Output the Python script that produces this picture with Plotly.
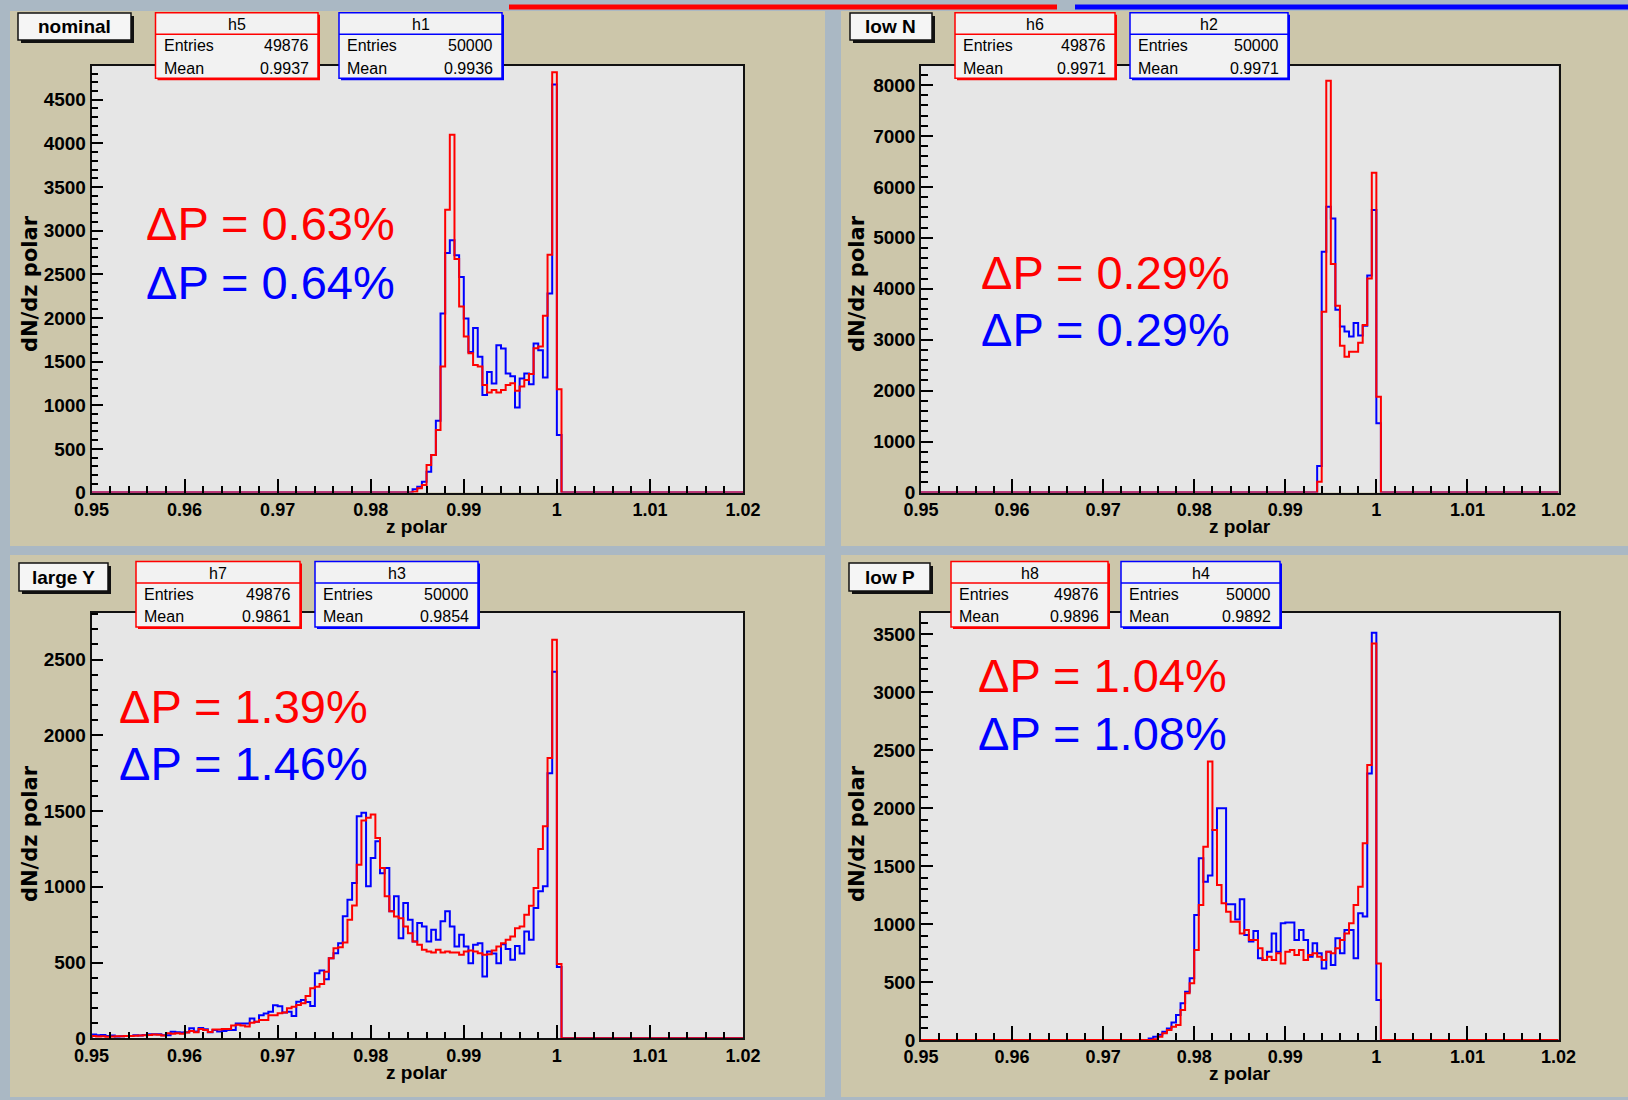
import plotly.graph_objects as go

W, H = 1628, 1100

# ---------------- data ----------------
X_LO, X_HI = 0.95, 1.02
BIN_W = 0.0005
N_BINS = 140

x_tick_vals = [0.95, 0.96, 0.97, 0.98, 0.99, 1.00, 1.01, 1.02]
x_tick_text = ["0.95", "0.96", "0.97", "0.98", "0.99", "1", "1.01", "1.02"]

panel_labels = ["nominal", "low N", "large Y", "low P"]
red_names = ["h5", "h6", "h7", "h8"]
blue_names = ["h1", "h2", "h3", "h4"]
red_entries = ["49876", "49876", "49876", "49876"]
blue_entries = ["50000", "50000", "50000", "50000"]
red_means = ["0.9937", "0.9971", "0.9861", "0.9896"]
blue_means = ["0.9936", "0.9971", "0.9854", "0.9892"]
red_dp = ["\u0394P = 0.63%", "\u0394P = 0.29%", "\u0394P = 1.39%", "\u0394P = 1.04%"]
blue_dp = ["\u0394P = 0.64%", "\u0394P = 0.29%", "\u0394P = 1.46%", "\u0394P = 1.08%"]

# first non-empty bin index (bins of 0.0005 starting at 0.95) and bin contents
nominal_red_start = 69
nominal_red = [10, 48, 86, 315, 430, 717, 1443, 3240, 4100, 2674, 2131, 1787, 1596, 1462,
               1443, 1233, 1145, 1175, 1145, 1175, 1233, 1252, 1167, 1213, 1290, 1359,
               1653, 1672, 2024, 2723, 4815, 1183]
nominal_blue_start = 69
nominal_blue = [37, 67, 124, 238, 429, 822, 2050, 2744, 2889, 2717, 2469, 1993, 1611, 1886,
                1554, 1116, 1380, 1249, 1688, 1650, 1364, 1333, 975, 1307, 1364, 1241,
                1707, 1630, 1318, 2279, 4674, 658]

lowN_red_start = 87
lowN_red = [212, 3549, 8084, 4486, 3667, 2882, 2666, 2764, 2764, 2941, 3288, 4203, 6278, 1880]
lowN_blue_start = 87
lowN_blue = [520, 4727, 5611, 5381, 3587, 3259, 3160, 3063, 3325, 3080, 3275, 4260, 5546, 1358]

largeY_red_start = 0
largeY_red = [15, 12, 14, 10, 12, 14, 13, 16, 15, 17, 18, 20,
              22, 25, 24, 18, 33, 30, 33, 30, 38,
              48, 40, 62, 55, 42, 58, 58, 62, 62,
              84, 90, 84, 78,
              103, 110, 121, 121,
              152, 152, 165, 170,
              198, 209, 220, 231,
              280, 330, 341, 359,
              440, 529, 595, 601, 632, 783, 877,
              1146, 1437, 1455, 1477,
              1322, 1124, 937, 838, 804, 793, 738, 694, 639, 617,
              584, 573, 566, 584, 566, 573, 566, 566, 551, 573, 580, 573, 562, 551, 555, 580, 606, 628,
              650, 672, 727, 738, 815, 875, 992,
              1250, 1400, 1850, 2630, 490]
largeY_blue_start = 0
largeY_blue = [25, 20, 22, 15, 18, 12, 14, 16, 15, 20, 18, 22,
               27, 27, 27, 20, 20, 44, 40, 38, 40,
               66, 45, 68, 60, 40, 55, 45, 48, 55,
               55, 97, 97, 97,
               130, 110, 152, 163,
               175, 218, 212, 170,
               176, 148, 242, 253,
               240, 213,
               430, 448, 390, 529, 562,
               628, 805, 915, 1025, 1466, 1488, 1003, 1190, 1300, 1090, 1124, 838, 937, 661,
               893, 783, 639, 761, 738, 639, 716, 650, 772, 838, 738, 606, 683, 606, 496, 617,
               628, 408, 573, 560, 496, 620, 590, 518, 610, 560, 705, 650, 860, 970, 1003,
               1750, 2420,
               470]

lowP_red_start = 51
lowP_red = [6, 29, 58, 86, 115, 129, 259, 403, 489, 777, 1165, 1668, 2402, 1812, 1337, 1179,
            1107, 1021, 1021, 920, 949, 863, 863, 791, 690, 719, 690, 748, 661, 762, 777, 733,
            777, 690, 733, 748, 719, 690, 762, 748, 791, 863, 920, 1007, 1165, 1323, 1697,
            2373, 3422, 661]
lowP_blue_start = 50
lowP_blue = [14, 29, 45, 72, 100, 150, 216, 317, 417, 532, 1079, 1568, 1366, 1420, 1812, 1999,
             1999, 1171, 1171, 1040, 1214, 905, 849, 940, 705, 690, 762, 920, 762, 1007, 1013,
             1013, 863, 949, 863, 719, 834, 748, 618, 762, 647, 877, 748, 949, 949, 705, 1093,
             1065, 2300, 3514, 345]

red_series = [(nominal_red_start, nominal_red), (lowN_red_start, lowN_red),
              (largeY_red_start, largeY_red), (lowP_red_start, lowP_red)]
blue_series = [(nominal_blue_start, nominal_blue), (lowN_blue_start, lowN_blue),
               (largeY_blue_start, largeY_blue), (lowP_blue_start, lowP_blue)]

y_max = [4892, 8382, 2809, 3687]
y_major = [500, 1000, 500, 500]
y_minor = [100, 200, 100, 100]

# ---------------- layout geometry (pixels) ----------------
frames = [(91.5, 65.5, 743, 492.5), (921, 65.5, 1558.5, 492.5),
          (91.5, 612.7, 743, 1038.3), (921, 612.7, 1558.5, 1040)]
pads = [(10, 11, 825, 546), (841, 11, 1628, 546), (10, 555, 825, 1097), (841, 555, 1628, 1097)]
label_boxes = [(18, 13, 131, 40), (850, 13, 932, 40), (19, 563, 108, 591), (849, 563, 930, 591)]
red_boxes = [(155.5, 12.7, 318, 78.3), (955, 12.7, 1115, 78.3), (136, 561.5, 300, 627), (951, 561.5, 1108, 627)]
blue_boxes = [(339, 12.7, 502, 78.3), (1130, 12.7, 1288, 78.3), (315, 561.5, 478, 627), (1121, 561.5, 1280, 627)]
dp_pos = [(144, 224, 282), (979, 272, 329), (117, 706, 763), (976, 675, 733)]
xtitle_pos = [(417, 527), (1240, 527), (417, 1072), (1240, 1073)]
ytitle_pos = [(30, 284), (857, 284), (30, 834), (857, 834)]

TAN = "#ccc6aa"
PLOTBG = "#e6e6e6"
SEP = "#aab8c4"
FONT = "Liberation Sans, Arial, Helvetica, sans-serif"
WIDE_FONT = "DejaVu Sans, Liberation Sans, sans-serif"


def px(x):
    return x / W


def py(y):
    return 1 - y / H


def hist_xy(start, counts):
    vals = [0] * N_BINS
    for i, c in enumerate(counts):
        vals[start + i] = c
    edges = [X_LO + i * BIN_W for i in range(N_BINS + 1)]
    xs = [X_LO] + edges[:-1] + [edges[-1], edges[-1]]
    ys = [0] + vals + [vals[-1], 0]
    return xs, ys


fig = go.Figure()
shapes = []
annotations = []

for p in range(4):
    x0, y0, x1, y1 = pads[p]
    shapes.append(dict(type="rect", xref="paper", yref="paper", x0=px(x0), x1=px(x1),
                       y0=py(y1), y1=py(y0), fillcolor=TAN, line=dict(width=0), layer="below"))
    fx0, fy0, fx1, fy1 = frames[p]
    shapes.append(dict(type="rect", xref="paper", yref="paper", x0=px(fx0), x1=px(fx1),
                       y0=py(fy1), y1=py(fy0), fillcolor=PLOTBG, line=dict(width=0), layer="below"))

# top strip bars
shapes.append(dict(type="rect", xref="paper", yref="paper", x0=px(509), x1=px(1057),
                   y0=py(9.5), y1=py(4.5), fillcolor="#ff0000", line=dict(width=0)))
shapes.append(dict(type="rect", xref="paper", yref="paper", x0=px(1075), x1=px(1628),
                   y0=py(9.5), y1=py(4.5), fillcolor="#0000ff", line=dict(width=0)))

for p in range(4):
    n = p + 1
    xa = "x" if n == 1 else f"x{n}"
    ya = "y" if n == 1 else f"y{n}"
    fx0, fy0, fx1, fy1 = frames[p]
    for (start, counts), color in ((blue_series[p], "#0000ff"), (red_series[p], "#ff0000")):
        xs, ys = hist_xy(start, counts)
        fig.add_trace(go.Scatter(x=xs, y=ys, mode="lines", line=dict(color=color, width=2, shape="hv"),
                                 xaxis=xa, yaxis=ya, showlegend=False, hoverinfo="skip"))
    xkey = "xaxis" if n == 1 else f"xaxis{n}"
    ykey = "yaxis" if n == 1 else f"yaxis{n}"
    tickfont = dict(family=FONT, size=18, color="black", weight="bold")
    fig.layout[xkey] = dict(domain=[px(fx0), px(fx1)], anchor=ya, range=[X_LO, X_HI],
                            automargin=False,
                            tickmode="array", tickvals=x_tick_vals, ticktext=x_tick_text,
                            ticks="inside", ticklen=14, tickwidth=1.5, tickcolor="black",
                            minor=dict(tickmode="linear", tick0=X_LO, dtick=0.002, ticks="inside",
                                       ticklen=7, tickwidth=1.5, tickcolor="black"),
                            showgrid=False, zeroline=False, showline=True, linecolor="#111",
                            linewidth=1.5, mirror=True, tickfont=tickfont, fixedrange=True)
    fig.layout[ykey] = dict(domain=[py(fy1), py(fy0)], anchor=xa, range=[0, y_max[p]],
                            automargin=False,
                            tickmode="linear", tick0=0, dtick=y_major[p],
                            ticks="inside", ticklen=12, tickwidth=1.5, tickcolor="black",
                            minor=dict(tickmode="linear", tick0=0, dtick=y_minor[p], ticks="inside",
                                       ticklen=7, tickwidth=1.5, tickcolor="black"),
                            showgrid=False, zeroline=False, showline=True, linecolor="#111",
                            linewidth=1.5, mirror=True,
                            tickfont=dict(family=FONT, size=19, color="black", weight="bold"),
                            fixedrange=True)

    # axis titles
    tx, ty = xtitle_pos[p]
    annotations.append(dict(text="z polar", xref="paper", yref="paper", x=px(tx), y=py(ty),
                            xanchor="center", yanchor="middle", showarrow=False,
                            font=dict(family=FONT, size=19, color="black", weight="bold")))
    tx, ty = ytitle_pos[p]
    annotations.append(dict(text="dN/dz polar", xref="paper", yref="paper", x=px(tx), y=py(ty),
                            xanchor="center", yanchor="middle", showarrow=False, textangle=-90,
                            font=dict(family=WIDE_FONT, size=21, color="black", weight="bold")))

    # Delta P text
    dx, ry, by = dp_pos[p]
    annotations.append(dict(text=red_dp[p], xref="paper", yref="paper", x=px(dx), y=py(ry),
                            xanchor="left", yanchor="middle", showarrow=False,
                            font=dict(family=FONT, size=47, color="#ff0000")))
    annotations.append(dict(text=blue_dp[p], xref="paper", yref="paper", x=px(dx), y=py(by),
                            xanchor="left", yanchor="middle", showarrow=False,
                            font=dict(family=FONT, size=47, color="#0000ff")))

    # panel label box
    lx0, ly0, lx1, ly1 = label_boxes[p]
    shapes.append(dict(type="rect", xref="paper", yref="paper", x0=px(lx0 + 3), x1=px(lx1 + 3),
                       y0=py(ly1 + 3), y1=py(ly0 + 3), fillcolor="#111", line=dict(width=0)))
    shapes.append(dict(type="rect", xref="paper", yref="paper", x0=px(lx0), x1=px(lx1),
                       y0=py(ly1), y1=py(ly0), fillcolor="#f5f5f5", line=dict(color="#111", width=1.5)))
    annotations.append(dict(text=panel_labels[p], xref="paper", yref="paper", x=px((lx0 + lx1) / 2),
                            y=py((ly0 + ly1) / 2), xanchor="center", yanchor="middle", showarrow=False,
                            font=dict(family=FONT, size=19, color="black", weight="bold")))

    # stats boxes
    for box, color, name, ent, mean in ((red_boxes[p], "#ff0000", red_names[p], red_entries[p], red_means[p]),
                                        (blue_boxes[p], "#0000ff", blue_names[p], blue_entries[p], blue_means[p])):
        bx0, by0, bx1, by1 = box
        hgt = by1 - by0
        shapes.append(dict(type="rect", xref="paper", yref="paper", x0=px(bx0 + 2), x1=px(bx1 + 2),
                           y0=py(by1 + 2), y1=py(by0 + 2), fillcolor=color, line=dict(width=0)))
        shapes.append(dict(type="rect", xref="paper", yref="paper", x0=px(bx0), x1=px(bx1),
                           y0=py(by1), y1=py(by0), fillcolor="#f2f2f2", line=dict(color=color, width=1.5)))
        hy = by0 + hgt * 0.33
        shapes.append(dict(type="line", xref="paper", yref="paper", x0=px(bx0), x1=px(bx1),
                           y0=py(hy), y1=py(hy), line=dict(color=color, width=1.5)))
        sfont = dict(family=FONT, size=16, color="black")
        annotations.append(dict(text=name, xref="paper", yref="paper", x=px((bx0 + bx1) / 2),
                                y=py(by0 + hgt * 0.18), xanchor="center", yanchor="middle",
                                showarrow=False, font=sfont))
        r1 = by0 + hgt * 0.50
        r2 = by0 + hgt * 0.845
        annotations.append(dict(text="Entries", xref="paper", yref="paper", x=px(bx0 + 6), y=py(r1),
                                xanchor="left", yanchor="middle", showarrow=False, font=sfont))
        annotations.append(dict(text=ent, xref="paper", yref="paper", x=px(bx1 - 7), y=py(r1),
                                xanchor="right", yanchor="middle", showarrow=False, font=sfont))
        annotations.append(dict(text="Mean", xref="paper", yref="paper", x=px(bx0 + 6), y=py(r2),
                                xanchor="left", yanchor="middle", showarrow=False, font=sfont))
        annotations.append(dict(text=mean, xref="paper", yref="paper", x=px(bx1 - 7), y=py(r2),
                                xanchor="right", yanchor="middle", showarrow=False, font=sfont))

fig.update_layout(width=W, height=H, autosize=False, margin=dict(l=0, r=0, t=0, b=0, pad=0, autoexpand=False),
                  paper_bgcolor=SEP, plot_bgcolor="rgba(0,0,0,0)",
                  shapes=shapes, annotations=annotations, showlegend=False)

fig.write_html("out.html", config={"displayModeBar": False},
               post_script="document.body.style.margin='0px';document.body.style.padding='0px';"
                           "document.body.style.overflow='hidden';")
